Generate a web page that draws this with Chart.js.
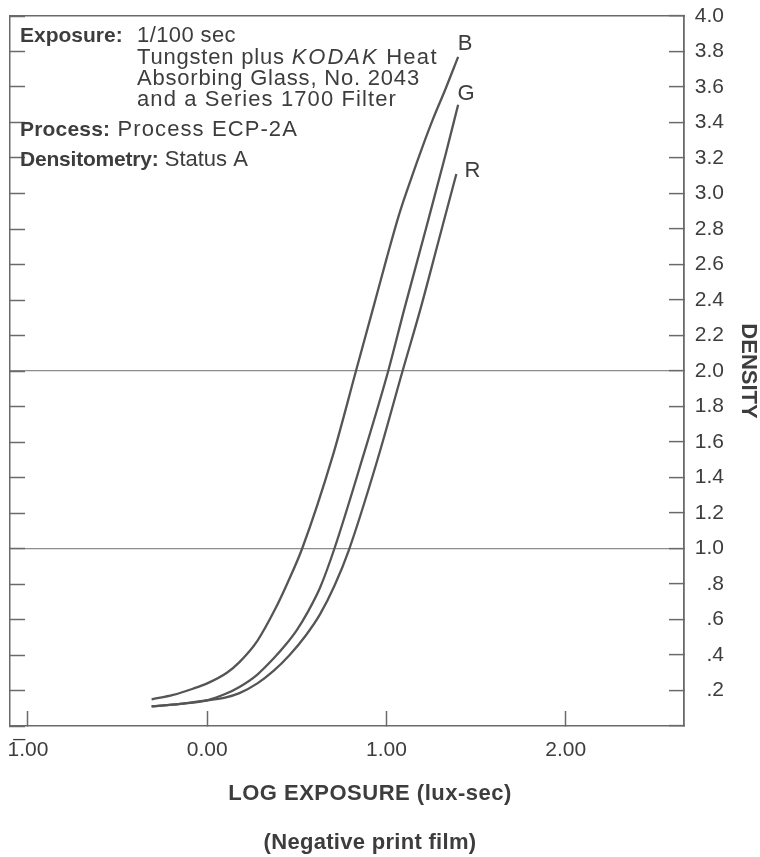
<!DOCTYPE html>
<html>
<head>
<meta charset="utf-8">
<script src="https://cdn.jsdelivr.net/npm/chart.js@4.4.1/dist/chart.umd.min.js"></script>
<style>
  html, body { margin: 0; padding: 0; background: #fff; }
  #wrap { width: 760px; height: 857px; position: relative; }
</style>
</head>
<body>
<div id="wrap"><canvas id="chart"></canvas></div>
<script>
// Characteristic curves, log exposure (lux-sec) against Status A density
const logExposureB = [-0.31, -0.19, -0.08, 0.00, 0.11, 0.18, 0.28, 0.38, 0.45, 0.53, 0.70, 0.83, 0.93, 1.00, 1.07, 1.14, 1.20, 1.26, 1.33, 1.40];
const densityB     = [0.15, 0.175, 0.21, 0.24, 0.30, 0.36, 0.48, 0.66, 0.81, 1.00, 1.52, 2.00, 2.37, 2.63, 2.88, 3.09, 3.26, 3.42, 3.59, 3.77];

const logExposureG = [-0.31, -0.15, 0.00, 0.10, 0.18, 0.28, 0.37, 0.44, 0.50, 0.56, 0.63, 0.71, 0.87, 1.01, 1.10, 1.22, 1.33, 1.40];
const densityG     = [0.11, 0.125, 0.145, 0.18, 0.22, 0.29, 0.38, 0.46, 0.54, 0.64, 0.78, 1.00, 1.52, 2.00, 2.35, 2.80, 3.22, 3.50];

const logExposureR = [-0.31, -0.15, 0.00, 0.10, 0.18, 0.28, 0.37, 0.46, 0.55, 0.63, 0.71, 0.79, 0.95, 1.09, 1.19, 1.29, 1.39];
const densityR     = [0.11, 0.125, 0.145, 0.16, 0.185, 0.24, 0.31, 0.40, 0.51, 0.63, 0.79, 0.99, 1.50, 2.00, 2.35, 2.73, 3.11];

const curveNames = ['B', 'G', 'R'];

const xTickValues = [-1, 0, 1, 2];
const xTickLabels = ['1\u0305.00', '0.00', '1.00', '2.00'];

const yTickValues = [0, 0.2, 0.4, 0.6, 0.8, 1.0, 1.2, 1.4, 1.6, 1.8, 2.0,
                     2.2, 2.4, 2.6, 2.8, 3.0, 3.2, 3.4, 3.6, 3.8, 4.0];
const yTickLabels = ['', '.2', '.4', '.6', '.8', '1.0', '1.2', '1.4', '1.6', '1.8', '2.0',
                     '2.2', '2.4', '2.6', '2.8', '3.0', '3.2', '3.4', '3.6', '3.8', '4.0'];

const referenceLevels = [1.0, 2.0];

const FONT = '"Liberation Sans", Arial, Helvetica, sans-serif';
const INK = '#3d3d3d';
const CURVE = '#555555';
const AXIS = '#6a6a6a';

const toPoints = (xs, ys) => xs.map((x, i) => ({ x: x, y: ys[i] }));

const curveStyle = {
  borderColor: CURVE,
  borderWidth: 2.3,
  pointRadius: 0,
  fill: false,
  cubicInterpolationMode: 'monotone'
};

// label nudges (px) from each curve's last point
const labelNudge = { B: [7, -13], G: [8, -11], R: [16, -3] };

const setTicks = values => scale => { scale.ticks = values.map(v => ({ value: v })); };

// fixed box sizes; tick labels are allowed to hang past the box edges
const fixSize = (w, h) => s => {
  if (w !== null) s.width = w;
  if (h !== null) s.height = h;
  s.paddingTop = s.paddingBottom = s.paddingLeft = s.paddingRight = 0;
};

const curveLabels = {
  id: 'curveLabels',
  afterDatasetsDraw(chart) {
    const ctx = chart.ctx;
    ctx.save();
    ctx.font = '22px ' + FONT;
    ctx.fillStyle = INK;
    ctx.textAlign = 'center';
    ctx.textBaseline = 'middle';
    chart.data.datasets.forEach((ds, i) => {
      const pts = chart.getDatasetMeta(i).data;
      const end = pts[pts.length - 1];
      const n = labelNudge[ds.label];
      ctx.fillText(ds.label, end.x + n[0], end.y + n[1]);
    });
    ctx.restore();
  }
};

// notes block in the upper left and the captions under the x axis
const notes = {
  id: 'notes',
  afterDraw(chart) {
    const ctx = chart.ctx;
    ctx.save();
    ctx.fillStyle = INK;
    ctx.textBaseline = 'alphabetic';
    ctx.textAlign = 'left';
    const bold = 'bold 21px ' + FONT;
    const reg = '22px ' + FONT;
    const ital = 'italic 22px ' + FONT;

    const run = (parts, x, y) => {
      parts.forEach(([font, text, spacing]) => {
        ctx.font = font;
        ctx.letterSpacing = spacing + 'px';
        ctx.fillText(text, x, y);
        x += ctx.measureText(text).width;
      });
    };
    run([[bold, 'Exposure:', 0]], 20, 42);
    run([[reg, '1/100 sec', 0.4]], 137, 42);
    run([[reg, 'Tungsten plus ', 0.8], [ital, 'KODAK', 2], [reg, ' Heat', 1.3]], 137, 64);
    run([[reg, 'Absorbing Glass, No. 2043', 0.8]], 137, 85);
    run([[reg, 'and a Series 1700 Filter', 1.1]], 137, 106);
    run([[bold, 'Process:', 0.2], [reg, ' Process ECP-2A', 1.1]], 20, 136);
    run([[bold, 'Densitometry:', -0.2], [reg, ' Status A', 0]], 20, 166);

    ctx.textAlign = 'center';
    ctx.textBaseline = 'middle';
    ctx.font = 'bold 22px ' + FONT;
    ctx.letterSpacing = '0.5px';
    ctx.fillText('LOG EXPOSURE (lux-sec)', 370, 794);
    ctx.letterSpacing = '0.3px';
    ctx.fillText('(Negative print film)', 370, 843);
    ctx.restore();
  }
};

new Chart(document.getElementById('chart'), {
  type: 'line',
  data: {
    datasets: [
      Object.assign({ label: curveNames[0], data: toPoints(logExposureB, densityB) }, curveStyle),
      Object.assign({ label: curveNames[1], data: toPoints(logExposureG, densityG) }, curveStyle),
      Object.assign({ label: curveNames[2], data: toPoints(logExposureR, densityR) }, curveStyle)
    ]
  },
  options: {
    responsive: true,
    maintainAspectRatio: false,
    animation: false,
    layout: { padding: { top: 16, left: 10, right: 36, bottom: 0 } },
    plugins: { legend: { display: false }, tooltip: { enabled: false }, title: { display: false } },
    scales: {
      x: {
        type: 'linear',
        position: 'bottom',
        min: -1.10,
        max: 2.66,
        afterBuildTicks: setTicks(xTickValues),
        afterFit: fixSize(null, 131),
        grid: { drawOnChartArea: false, drawTicks: true, tickLength: -15, tickColor: AXIS, tickWidth: 1.5 },
        border: { display: true, color: AXIS, width: 1.5 },
        ticks: {
          padding: 27,
          color: INK,
          font: { family: FONT, size: 21 },
          maxRotation: 0,
          autoSkip: false,
          callback: (v) => xTickLabels[xTickValues.indexOf(v)]
        }
      },
      xTop: {
        type: 'linear',
        position: 'top',
        min: -1.10,
        max: 2.66,
        afterFit: fixSize(null, 0),
        grid: { drawOnChartArea: false, drawTicks: false },
        border: { display: true, color: AXIS, width: 1.5 },
        ticks: { display: false }
      },
      y: {
        type: 'linear',
        position: 'right',
        min: 0,
        max: 4,
        afterBuildTicks: setTicks(yTickValues),
        afterFit: fixSize(40, null),
        grid: {
          drawOnChartArea: true,
          drawTicks: true,
          tickLength: -15,
          tickColor: AXIS,
          tickWidth: 1.5,
          lineWidth: 1.2,
          color: c => referenceLevels.includes(Math.round(c.tick.value * 10) / 10) ? '#8c8c8c' : 'rgba(0,0,0,0)'
        },
        border: { display: true, color: AXIS, width: 1.8 },
        ticks: {
          padding: 24,
          crossAlign: 'far',
          color: INK,
          font: { family: FONT, size: 21 },
          autoSkip: false,
          callback: (v) => yTickLabels[yTickValues.findIndex(t => Math.abs(t - v) < 1e-6)]
        },
        title: {
          display: true,
          text: 'DENSITY',
          color: INK,
          font: { family: FONT, size: 22, weight: 'bold' },
          padding: { top: -37, bottom: 0 }
        }
      },
      yLeft: {
        type: 'linear',
        position: 'left',
        min: 0,
        max: 4,
        afterBuildTicks: setTicks(yTickValues),
        afterFit: fixSize(0, null),
        grid: { drawOnChartArea: false, drawTicks: true, tickLength: -15, tickColor: AXIS, tickWidth: 1.5 },
        border: { display: true, color: AXIS, width: 1.5 },
        ticks: { display: false }
      }
    }
  },
  plugins: [curveLabels, notes]
});
</script>
</body>
</html>
